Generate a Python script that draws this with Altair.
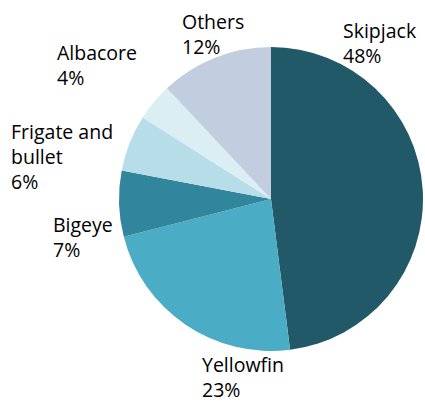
import altair as alt
import pandas as pd

species = ["Skipjack", "Yellowfin", "Bigeye", "Frigate and bullet", "Albacore", "Others"]
shares = [48, 23, 7, 6, 4, 12]
label_lines = ["Skipjack", "Yellowfin", "Bigeye", "Frigate and\nbullet", "Albacore", "Others"]
colors = ["#215968", "#4BACC6", "#31859C", "#B7DEE8", "#DAEEF3", "#C3CDE0"]

# layout of the label blocks (left edge, first baseline) in pixels
label_x = [343, 202, 53, 11, 57, 182]
label_y = [38, 372, 232, 139, 60, 29]

W, H = 425, 403
CX, CY, R = 271, 199, 152

pie_df = pd.DataFrame({"species": species, "share": shares, "idx": list(range(len(species)))})
lab_df = pd.DataFrame({
    "label": [f"{l}\n{s}%" for l, s in zip(label_lines, shares)],
    "lx": label_x,
    "ly": label_y,
})

pie = alt.Chart(pie_df).mark_arc(outerRadius=R, stroke=None).encode(
    theta=alt.Theta("share:Q", stack=True),
    order=alt.Order("idx:Q"),
    color=alt.Color("species:N", scale=alt.Scale(domain=species, range=colors), legend=None),
    x=alt.value(CX),
    y=alt.value(CY),
)

labels = alt.Chart(lab_df).mark_text(
    align="left", baseline="alphabetic", lineBreak="\n", lineHeight=25,
    font="Open Sans", fontSize=19.5, color="#000000",
).encode(
    x=alt.X("lx:Q", scale=alt.Scale(domain=[0, W], range=[0, W]), axis=None),
    y=alt.Y("ly:Q", scale=alt.Scale(domain=[0, H], range=[0, H]), axis=None),
    text="label:N",
)

chart = alt.layer(pie, labels).properties(
    width=W, height=H, autosize=alt.AutoSizeParams(type="none"), padding=0
).configure_view(stroke=None)

chart.save("out.html", embed_options={"renderer": "svg", "actions": False})
